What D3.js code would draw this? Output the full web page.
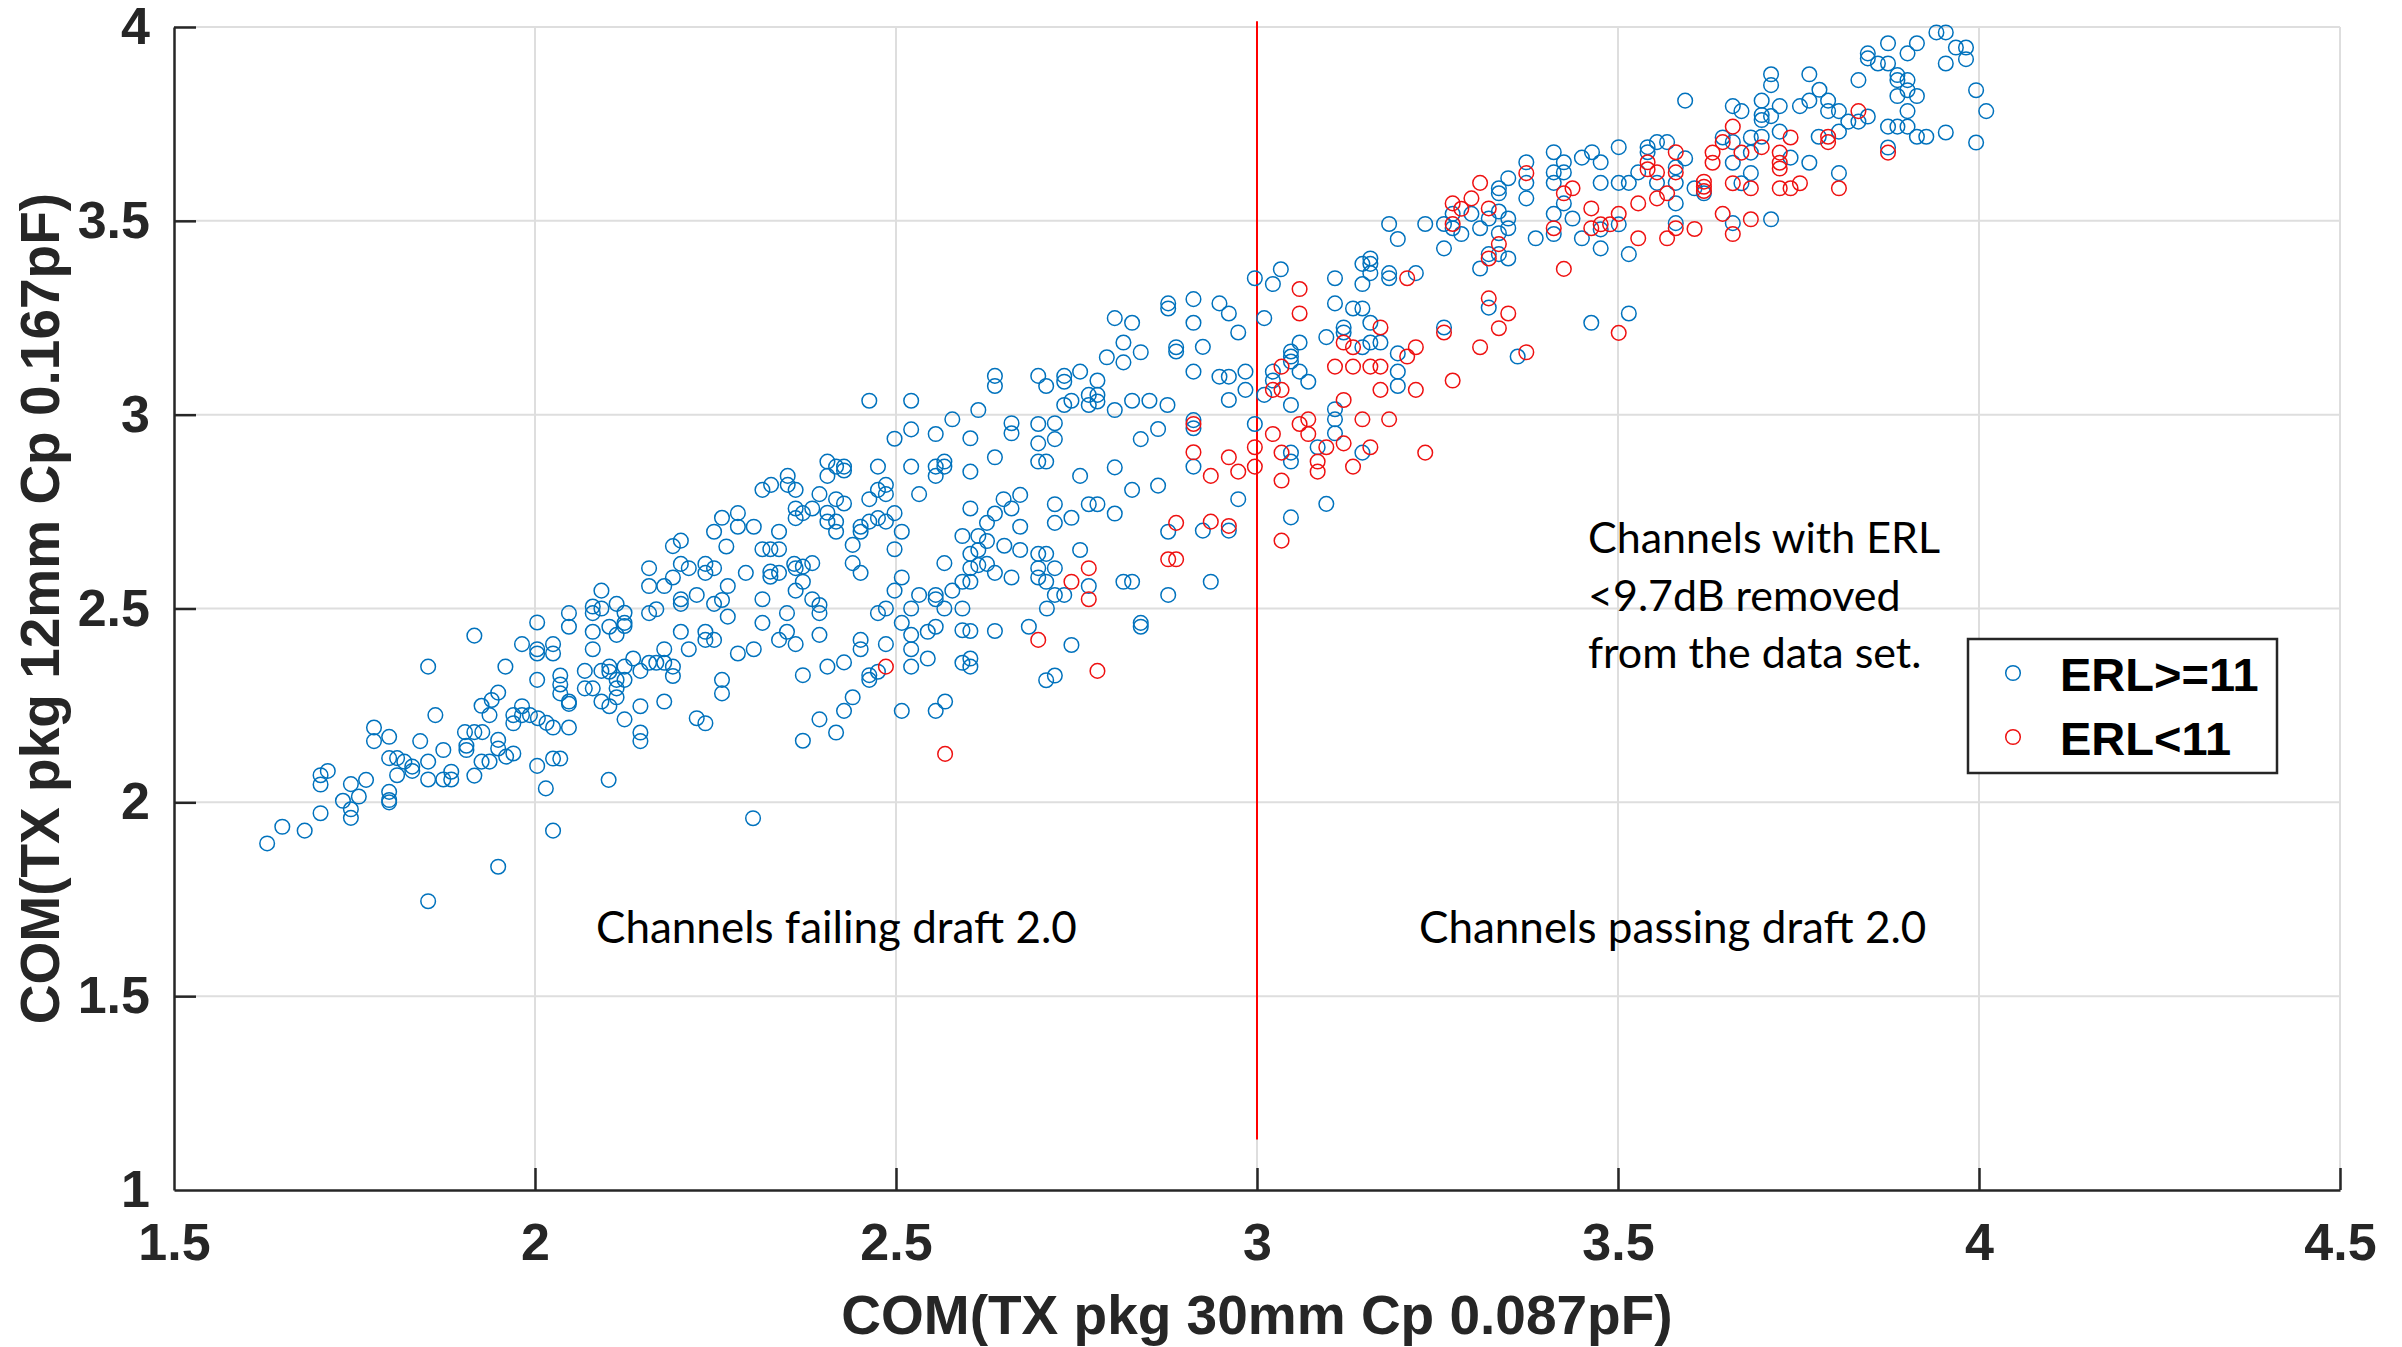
<!DOCTYPE html>
<html>
<head>
<meta charset="utf-8">
<script src="https://cdn.jsdelivr.net/npm/d3@7"></script>
<style>
  html, body { margin: 0; padding: 0; background: #fff; }
  svg { display: block; }
</style>
</head>
<body>
<svg id="chart" width="2402" height="1347"></svg>
<script>
// Axis ticks
const X_TICKS = [1.5, 2, 2.5, 3, 3.5, 4, 4.5];
const Y_TICKS = [1, 1.5, 2, 2.5, 3, 3.5, 4];

// Axis titles
const X_LABEL = "COM(TX pkg 30mm Cp 0.087pF)";
const Y_LABEL = "COM(TX pkg 12mm Cp 0.167pF)";

// Series names (legend order)
const SERIES_NAMES = ["ERL>=11", "ERL<11"];

// Channels with ERL >= 11: [COM 30mm pkg, COM 12mm pkg]
const ERL_HIGH = [
  [1.916,2.430],[1.852,2.350],[1.862,2.225],[1.777,2.193],[1.798,2.169],[1.777,2.158],[1.841,2.158],[1.873,2.135],[1.903,2.181],[1.916,2.181],[1.927,2.181],[1.926,2.249],[1.905,2.146],[1.905,2.135],[1.852,2.105],[1.798,2.114],[1.809,2.114],[1.819,2.105],[1.830,2.092],[1.830,2.081],[1.809,2.070],[1.852,2.059],[1.873,2.059],[1.884,2.079],[1.884,2.059],[1.916,2.069],[1.926,2.105],[1.713,2.081],[1.703,2.070],[1.703,2.046],[1.745,2.047],[1.766,2.058],[1.756,2.015],[1.734,2.004],[1.745,1.982],[1.745,1.960],[1.798,2.027],[1.798,2.006],[1.798,2.000],[1.703,1.972],[1.650,1.937],[1.681,1.927],[1.629,1.894],[1.852,1.745],
  [2.259,2.734],[2.248,2.698],[2.265,2.660],[2.191,2.661],[2.202,2.675],[2.158,2.604],[2.202,2.615],[2.213,2.604],[2.236,2.615],[2.236,2.592],[2.248,2.604],[2.191,2.580],[2.179,2.558],[2.158,2.558],[2.267,2.558],[2.224,2.535],[2.202,2.524],[2.202,2.512],[2.248,2.512],[2.259,2.522],[2.168,2.498],[2.158,2.488],[2.267,2.479],[2.202,2.440],[2.236,2.440],[2.236,2.419],[2.248,2.419],[2.213,2.395],[2.179,2.395],[2.259,2.316],[2.259,2.281],[2.224,2.217],[2.236,2.204],
  [2.092,2.546],[2.080,2.505],[2.080,2.488],[2.092,2.500],[2.113,2.512],[2.124,2.489],[2.124,2.463],[2.124,2.455],[2.103,2.453],[2.113,2.432],[2.080,2.440],[2.080,2.395],[2.047,2.488],[2.047,2.453],[2.003,2.464],[1.982,2.408],[2.003,2.395],[2.003,2.384],[2.025,2.408],[2.025,2.384],[1.959,2.350],[2.003,2.316],[2.035,2.327],[2.035,2.304],[2.035,2.281],[2.047,2.260],[2.047,2.254],[2.069,2.339],[2.069,2.294],[2.080,2.294],[2.092,2.339],[2.103,2.350],[2.103,2.337],[2.113,2.316],[2.113,2.294],[2.113,2.271],[2.124,2.350],[2.124,2.316],[2.136,2.371],[2.146,2.339],[2.158,2.360],[2.168,2.360],[2.179,2.360],[2.191,2.350],[2.191,2.326],[2.092,2.260],[2.103,2.248],[2.146,2.248],[2.179,2.260],[2.124,2.214],[2.146,2.180],[2.146,2.158],[2.102,2.058],
  [1.949,2.283],[1.940,2.264],[1.937,2.225],[1.970,2.225],[1.982,2.248],[1.982,2.225],[1.970,2.204],[1.993,2.225],[2.004,2.217],[2.016,2.205],[2.025,2.193],[2.047,2.193],[1.949,2.161],[1.949,2.139],[1.960,2.118],[1.970,2.126],[1.937,2.105],[2.003,2.094],[2.025,2.113],[2.035,2.113],[2.015,2.036],[2.025,1.927],[1.949,1.834],
  [2.463,3.036],[2.521,3.036],[2.578,2.988],[2.521,2.962],[2.498,2.938],[2.555,2.950],[2.405,2.879],[2.417,2.866],[2.428,2.866],[2.428,2.856],[2.405,2.842],[2.475,2.866],[2.521,2.866],[2.555,2.866],[2.567,2.879],[2.567,2.866],[2.555,2.842],[2.350,2.842],[2.327,2.819],[2.315,2.806],[2.350,2.819],[2.361,2.806],[2.394,2.795],[2.417,2.782],[2.428,2.771],[2.463,2.782],[2.475,2.806],[2.486,2.819],[2.486,2.795],[2.532,2.795],[2.361,2.758],[2.361,2.733],[2.371,2.746],[2.384,2.758],[2.405,2.747],[2.405,2.724],[2.417,2.724],[2.417,2.698],[2.451,2.711],[2.451,2.698],[2.463,2.724],[2.475,2.733],[2.486,2.724],[2.498,2.746],[2.508,2.698],[2.281,2.746],[2.281,2.711],[2.303,2.711],[2.338,2.698],[2.440,2.664],[2.315,2.653],[2.326,2.653],[2.338,2.653],[2.498,2.653],[2.567,2.617],[2.440,2.617],[2.451,2.592],[2.359,2.615],[2.371,2.608],[2.384,2.617],[2.361,2.604],[2.326,2.595],[2.326,2.582],[2.338,2.592],[2.292,2.592],[2.371,2.569],[2.361,2.546],[2.315,2.524],[2.384,2.524],[2.394,2.509],[2.394,2.488],[2.508,2.580],[2.498,2.546],[2.532,2.535],[2.555,2.535],[2.555,2.524],[2.578,2.546],[2.567,2.500],[2.521,2.500],[2.486,2.500],[2.475,2.488],[2.508,2.463],[2.349,2.488],[2.315,2.463],[2.349,2.440],[2.338,2.419],[2.361,2.408],[2.394,2.432],[2.451,2.419],[2.451,2.395],[2.486,2.408],[2.521,2.432],[2.521,2.395],[2.544,2.440],[2.555,2.453],[2.544,2.371],[2.521,2.350],[2.281,2.384],[2.303,2.395],[2.371,2.328],[2.405,2.350],[2.428,2.361],[2.463,2.328],[2.463,2.316],[2.475,2.337],[2.440,2.271],[2.428,2.236],[2.394,2.214],[2.417,2.180],[2.371,2.159],[2.508,2.236],[2.555,2.236],[2.568,2.260],[2.302,1.959],
  [2.912,3.298],[2.877,3.287],[2.877,3.274],[2.912,3.237],[2.803,3.249],[2.827,3.237],[2.815,3.186],[2.839,3.161],[2.792,3.148],[2.815,3.135],[2.888,3.174],[2.888,3.163],[2.912,3.111],[2.637,3.100],[2.637,3.074],[2.697,3.100],[2.708,3.074],[2.733,3.100],[2.733,3.085],[2.755,3.111],[2.779,3.088],[2.767,3.051],[2.779,3.051],[2.779,3.034],[2.767,3.025],[2.743,3.036],[2.733,3.025],[2.803,3.012],[2.827,3.036],[2.851,3.036],[2.876,3.025],[2.614,3.012],[2.660,2.978],[2.660,2.952],[2.697,2.976],[2.720,2.978],[2.697,2.926],[2.720,2.937],[2.697,2.879],[2.708,2.879],[2.603,2.939],[2.637,2.890],[2.603,2.853],[2.863,2.963],[2.839,2.937],[2.912,2.986],[2.912,2.965],[2.912,2.866],[2.803,2.864],[2.755,2.842],[2.827,2.806],[2.863,2.817],[2.649,2.782],[2.672,2.793],[2.660,2.758],[2.637,2.745],[2.626,2.721],[2.720,2.769],[2.767,2.769],[2.779,2.769],[2.720,2.721],[2.743,2.734],[2.803,2.745],[2.672,2.711],[2.603,2.758],[2.592,2.687],[2.614,2.687],[2.626,2.674],[2.614,2.651],[2.603,2.641],[2.614,2.612],[2.626,2.615],[2.603,2.604],[2.637,2.592],[2.650,2.662],[2.672,2.651],[2.660,2.580],[2.592,2.569],[2.603,2.569],[2.697,2.641],[2.708,2.641],[2.697,2.604],[2.697,2.580],[2.708,2.569],[2.720,2.604],[2.720,2.535],[2.733,2.535],[2.709,2.500],[2.592,2.500],[2.755,2.651],[2.767,2.558],[2.815,2.569],[2.827,2.569],[2.877,2.698],[2.877,2.535],[2.839,2.463],[2.839,2.453],[2.592,2.444],[2.603,2.442],[2.637,2.442],[2.684,2.453],[2.743,2.406],[2.592,2.360],[2.603,2.371],[2.603,2.350],[2.708,2.315],[2.720,2.327],
  [3.183,3.492],[3.195,3.453],[3.233,3.492],[3.033,3.375],[2.997,3.352],[3.022,3.337],[3.108,3.352],[3.146,3.389],[3.157,3.403],[3.157,3.389],[3.157,3.365],[3.146,3.337],[3.183,3.365],[3.183,3.352],[3.220,3.365],[3.108,3.287],[3.133,3.274],[3.146,3.274],[2.948,3.287],[2.961,3.261],[2.974,3.212],[3.010,3.249],[3.157,3.237],[3.120,3.225],[3.120,3.212],[3.096,3.200],[3.146,3.174],[3.157,3.186],[3.171,3.186],[2.925,3.175],[3.059,3.186],[3.047,3.163],[3.047,3.150],[3.047,3.137],[3.059,3.111],[3.071,3.085],[3.022,3.111],[3.022,3.088],[3.010,3.051],[3.047,3.025],[2.984,3.111],[2.984,3.064],[2.948,3.098],[2.961,3.098],[2.961,3.038],[3.195,3.158],[3.195,3.111],[3.195,3.074],[3.108,3.014],[3.108,2.988],[3.108,2.952],[2.997,2.976],[3.047,2.902],[3.047,2.879],[3.084,2.916],[3.146,2.902],[2.974,2.782],[3.096,2.770],[3.047,2.735],[2.961,2.701],[2.925,2.701],[2.936,2.569],
  [3.501,3.690],[3.411,3.677],[3.425,3.651],[3.450,3.663],[3.464,3.677],[3.476,3.651],[3.541,3.690],[3.541,3.677],[3.554,3.703],[3.568,3.703],[3.528,3.625],[3.580,3.638],[3.554,3.598],[3.580,3.598],[3.515,3.598],[3.501,3.598],[3.476,3.598],[3.580,3.545],[3.373,3.651],[3.373,3.598],[3.373,3.558],[3.411,3.625],[3.411,3.598],[3.425,3.625],[3.425,3.545],[3.411,3.518],[3.411,3.466],[3.437,3.506],[3.386,3.455],[3.450,3.455],[3.476,3.478],[3.501,3.491],[3.476,3.429],[3.515,3.414],[3.580,3.494],[3.348,3.610],[3.335,3.584],[3.335,3.571],[3.297,3.518],[3.271,3.518],[3.259,3.492],[3.271,3.481],[3.283,3.466],[3.309,3.481],[3.321,3.506],[3.335,3.524],[3.348,3.506],[3.348,3.481],[3.335,3.468],[3.335,3.414],[3.321,3.414],[3.348,3.403],[3.309,3.377],[3.259,3.429],[3.321,3.276],[3.361,3.150],[3.259,3.225],[3.463,3.237],[3.515,3.261],
  [3.593,3.810],[3.593,3.661],[3.606,3.584],[3.619,3.571],[3.712,3.878],[3.712,3.850],[3.765,3.878],[3.779,3.838],[3.833,3.863],[3.699,3.810],[3.659,3.796],[3.671,3.783],[3.699,3.773],[3.699,3.760],[3.712,3.770],[3.724,3.796],[3.752,3.796],[3.765,3.810],[3.791,3.810],[3.791,3.783],[3.806,3.783],[3.819,3.756],[3.833,3.756],[3.724,3.730],[3.806,3.730],[3.778,3.717],[3.645,3.715],[3.659,3.703],[3.684,3.715],[3.699,3.717],[3.659,3.650],[3.684,3.676],[3.739,3.663],[3.765,3.650],[3.684,3.623],[3.671,3.597],[3.806,3.623],[3.659,3.494],[3.712,3.504],
  [3.846,3.932],[3.846,3.919],[3.860,3.906],[3.874,3.958],[3.874,3.906],[3.901,3.932],[3.914,3.958],[3.941,3.986],[3.954,3.986],[3.968,3.947],[3.982,3.947],[3.982,3.917],[3.954,3.906],[3.887,3.876],[3.887,3.863],[3.901,3.863],[3.901,3.837],[3.887,3.822],[3.914,3.822],[3.901,3.783],[3.846,3.769],[3.874,3.743],[3.887,3.743],[3.901,3.743],[3.914,3.717],[3.927,3.717],[3.954,3.728],[3.996,3.837],[4.010,3.783],[3.996,3.702],[3.874,3.689]
];

// Channels with ERL < 11
const ERL_LOW = [
  [2.486,2.350],[2.568,2.125],
  [2.912,2.976],[2.912,2.903],[2.767,2.604],[2.743,2.569],[2.767,2.524],[2.888,2.721],[2.877,2.627],[2.888,2.627],[2.697,2.419],[2.779,2.339],
  [3.059,3.324],[3.208,3.352],[3.059,3.261],[3.171,3.225],[3.120,3.186],[3.133,3.174],[3.034,3.124],[3.022,3.064],[3.034,3.064],[3.208,3.150],[3.220,3.174],[3.171,3.064],[3.220,3.064],[3.133,3.124],[3.108,3.124],[3.157,3.124],[3.171,3.124],[3.120,3.038],[3.146,2.988],[3.183,2.988],[3.059,2.976],[3.071,2.988],[3.071,2.950],[3.022,2.950],[2.997,2.916],[2.997,2.866],[2.961,2.890],[2.974,2.853],[2.936,2.842],[3.034,2.902],[3.096,2.916],[3.120,2.926],[3.084,2.879],[3.084,2.853],[3.157,2.916],[3.133,2.866],[3.233,2.902],[3.034,2.830],[2.936,2.724],[2.961,2.713],[3.034,2.675],
  [3.580,3.677],[3.541,3.651],[3.541,3.633],[3.554,3.625],[3.580,3.625],[3.554,3.558],[3.568,3.571],[3.528,3.545],[3.373,3.623],[3.425,3.571],[3.437,3.584],[3.411,3.481],[3.463,3.532],[3.463,3.481],[3.476,3.491],[3.489,3.491],[3.501,3.518],[3.528,3.455],[3.568,3.455],[3.580,3.481],[3.309,3.598],[3.297,3.558],[3.271,3.545],[3.283,3.531],[3.321,3.532],[3.271,3.492],[3.335,3.440],[3.321,3.403],[3.425,3.376],[3.321,3.300],[3.348,3.261],[3.335,3.223],[3.309,3.174],[3.373,3.161],[3.259,3.212],[3.271,3.088],[3.501,3.211],
  [3.619,3.601],[3.619,3.588],[3.619,3.577],[3.606,3.479],[3.833,3.783],[3.791,3.717],[3.791,3.703],[3.659,3.743],[3.645,3.703],[3.699,3.690],[3.739,3.715],[3.631,3.676],[3.631,3.650],[3.671,3.676],[3.724,3.676],[3.724,3.650],[3.724,3.635],[3.659,3.597],[3.684,3.584],[3.724,3.584],[3.739,3.584],[3.752,3.597],[3.806,3.584],[3.645,3.518],[3.659,3.466],[3.684,3.504],
  [3.874,3.676]
];

// Draft 2.0 pass/fail threshold on the x axis and the span of its marker line
const DRAFT_LIMIT_X = [3];
const DRAFT_LIMIT_SPAN = [1.13, 4.015];

// Annotation texts
const NOTE_FAIL = "Channels failing draft 2.0";
const NOTE_PASS = "Channels passing draft 2.0";
const NOTE_FILTER = ["Channels with ERL", "<9.7dB removed", "from the data set."];

// ---------------------------------------------------------------------------
const W = 2402, H = 1347;
const plot = { left: 174, right: 2340, top: 27, bottom: 1190 };
const BLUE = "#0072BD", RED = "#EE1111";
const AXIS_COLOR = "#262626", GRID_COLOR = "#dedede";
const TICK_FONT = "'Liberation Sans', Arial, sans-serif";
const NOTE_FONT = "Lato, 'Open Sans', sans-serif";

const svg = d3.select("#chart");
svg.append("rect").attr("width", W).attr("height", H).attr("fill", "#fff");

const x = d3.scaleLinear().domain([1.5, 4.5]).range([plot.left, plot.right]);
const y = d3.scaleLinear().domain([1, 4]).range([plot.bottom, plot.top]);

// Grid lines
const grid = svg.append("g").attr("stroke", GRID_COLOR).attr("stroke-width", 2);
grid.selectAll("line.vx").data(X_TICKS.slice(1)).join("line")
  .attr("x1", d => x(d)).attr("x2", d => x(d))
  .attr("y1", y(1)).attr("y2", y(4));
grid.selectAll("line.hy").data(Y_TICKS.slice(1)).join("line")
  .attr("x1", x(1.5)).attr("x2", x(4.5))
  .attr("y1", d => y(d)).attr("y2", d => y(d));

// Axes (ticks drawn inward)
const fmt = d => String(d);
const xAxis = svg.append("g")
  .attr("transform", `translate(0,${plot.bottom})`)
  .call(d3.axisBottom(x).tickValues(X_TICKS).tickFormat(fmt)
    .tickSizeInner(-22).tickSizeOuter(0).tickPadding(33));
const yAxis = svg.append("g")
  .attr("transform", `translate(${plot.left},0)`)
  .call(d3.axisLeft(y).tickValues(Y_TICKS).tickFormat(fmt)
    .tickSizeInner(-22).tickSizeOuter(0).tickPadding(24));

[xAxis, yAxis].forEach(g => {
  g.select(".domain").attr("stroke", AXIS_COLOR).attr("stroke-width", 2.5);
  g.selectAll(".tick line").attr("stroke", AXIS_COLOR).attr("stroke-width", 2.5);
  g.selectAll(".tick text")
    .attr("fill", AXIS_COLOR)
    .style("font-family", TICK_FONT)
    .style("font-weight", "bold")
    .style("font-size", "52px");
});
// hide the tick marks that sit on the axis corners
xAxis.selectAll(".tick line").filter(d => d === 1.5).remove();
yAxis.selectAll(".tick line").filter(d => d === 1).remove();

// Axis titles
svg.append("text")
  .attr("x", (plot.left + plot.right) / 2).attr("y", 1334)
  .attr("text-anchor", "middle")
  .attr("fill", AXIS_COLOR)
  .style("font-family", TICK_FONT).style("font-weight", "bold").style("font-size", "55px")
  .text(X_LABEL);
svg.append("text")
  .attr("transform", `translate(59,${(plot.top + plot.bottom) / 2}) rotate(-90)`)
  .attr("text-anchor", "middle")
  .attr("fill", AXIS_COLOR)
  .style("font-family", TICK_FONT).style("font-weight", "bold").style("font-size", "55px")
  .text(Y_LABEL);

// Draft limit line
svg.append("g").selectAll("line").data(DRAFT_LIMIT_X).join("line")
  .attr("x1", d => x(d)).attr("x2", d => x(d))
  .attr("y1", y(DRAFT_LIMIT_SPAN[0])).attr("y2", y(DRAFT_LIMIT_SPAN[1]))
  .attr("stroke", "#ff0000").attr("stroke-width", 2);

// Scatter markers
const R = 7.3;
function drawSeries(data, color) {
  svg.append("g").selectAll("circle").data(data).join("circle")
    .attr("cx", d => x(d[0])).attr("cy", d => y(d[1]))
    .attr("r", R)
    .attr("fill", "none").attr("stroke", color).attr("stroke-width", 1.5);
}
drawSeries(ERL_HIGH, BLUE);
drawSeries(ERL_LOW, RED);

// Annotations
const notes = svg.append("g")
  .style("font-family", NOTE_FONT).attr("fill", "#000");
notes.append("text").attr("x", 596).attr("y", 943).style("font-size", "44px").text(NOTE_FAIL);
notes.append("text").attr("x", 1419).attr("y", 943).style("font-size", "44px").text(NOTE_PASS);
notes.selectAll("text.filter").data(NOTE_FILTER).join("text")
  .attr("class", "filter")
  .attr("x", 1588).attr("y", (d, i) => 553 + i * 57.5)
  .style("font-size", "43px")
  .text(d => d);

// Legend
const legend = svg.append("g");
legend.append("rect")
  .attr("x", 1968).attr("y", 639).attr("width", 309).attr("height", 134)
  .attr("fill", "#fff").attr("stroke", AXIS_COLOR).attr("stroke-width", 2.5);
const legendColors = [BLUE, RED];
const items = legend.selectAll("g.item").data(SERIES_NAMES).join("g")
  .attr("class", "item")
  .attr("transform", (d, i) => `translate(0,${673 + i * 64})`);
items.append("circle")
  .attr("cx", 2013).attr("cy", 0).attr("r", R)
  .attr("fill", "none").attr("stroke", (d, i) => legendColors[i]).attr("stroke-width", 1.5);
items.append("text")
  .attr("x", 2060).attr("y", 18)
  .attr("fill", "#000")
  .style("font-family", TICK_FONT).style("font-weight", "bold").style("font-size", "47px")
  .text(d => d);
</script>
</body>
</html>
